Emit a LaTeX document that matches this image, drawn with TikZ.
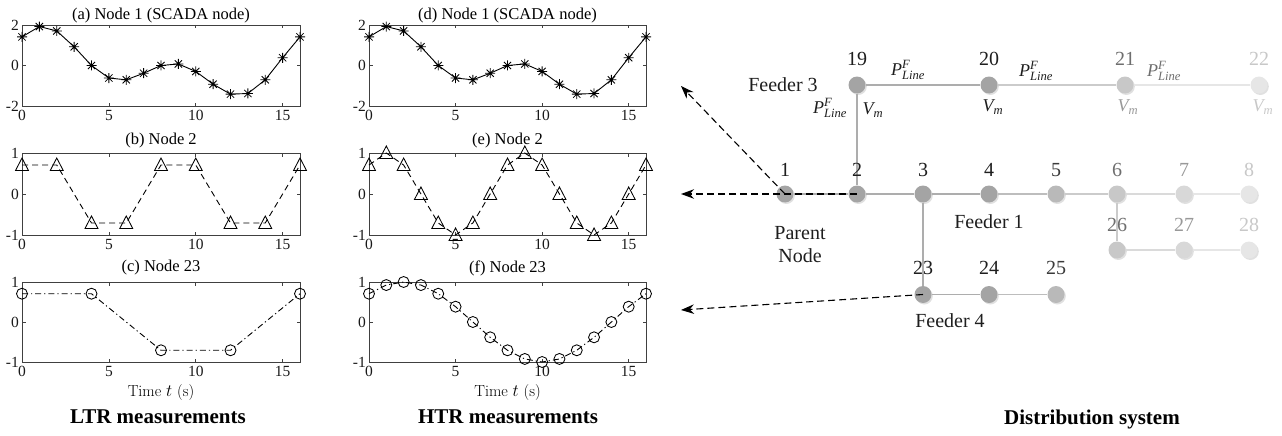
\documentclass[tikz,border=0pt]{standalone}
\usepackage{fontspec}
\usepackage{amsmath}
\setmainfont{Liberation Serif}
\newfontfamily\lmrfont{Latin Modern Roman}
\usetikzlibrary{arrows.meta,shadows}

\definecolor{busA}{HTML}{A4A4A4}
\definecolor{busB}{HTML}{B9B9B9}
\definecolor{busC}{HTML}{C8C8C8}
\definecolor{busD}{HTML}{D8D8D8}
\definecolor{busE}{HTML}{E6E6E6}
\definecolor{lineA}{HTML}{ADADAD}
\definecolor{lineB}{HTML}{BDBDBD}
\definecolor{lineC}{HTML}{CBCBCB}
\definecolor{lineD}{HTML}{DADADA}
\definecolor{lineE}{HTML}{E6E6E6}
\definecolor{txtA}{HTML}{1E1E1E}
\definecolor{txtB}{HTML}{3A3A3A}
\definecolor{txtC}{HTML}{6E6E6E}
\definecolor{txtD}{HTML}{999999}
\definecolor{txtE}{HTML}{C8C8C8}

\newcommand\myaxes[7]{%
  \draw[axisbox] (#2,#3) rectangle (#4,#5);
  \foreach \k in {5,10,15}{%
    \pgfmathsetmacro\xx{#2+\k*(#4-#2)/16}%
    \draw[tickmark] (\xx,#5) -- ++(0,-3.5);
    \draw[tickmark] (\xx,#3) -- ++(0,3.5);
  }%
  \foreach \k in {0,5,10,15}{%
    \pgfmathsetmacro\xx{#2+\k*(#4-#2)/16}%
    \node[ticklab,anchor=north] (#1x\k) at (\xx,#5+4) {\k};
  }%
  \pgfmathsetmacro\ym{(#3+#5)/2}%
  \draw[tickmark] (#2,\ym) -- ++(3.5,0);
  \draw[tickmark] (#4,\ym) -- ++(-3.5,0);
  \node[ticklab,anchor=east] (#1yt) at (#2-3,#3) {#6};
  \node[ticklab,anchor=east] (#1ym) at (#2-3,\ym) {0};
  \node[ticklab,anchor=east] (#1yb) at (#2-3,#5) {#7};
}

\newcommand\scadadata{%
  \draw[solidline] plot[domain=0:16,samples=17] (\x,{sin(45*\x+45)+sin(22.5*\x+45)});
  \foreach \t in {0,...,16}{%
    \pgfmathsetmacro\v{sin(45*\t+45)+sin(22.5*\t+45)}%
    \draw[mk] (\t,\v) +(-5pt,0pt) -- +(5pt,0pt) +(0pt,-5pt) -- +(0pt,5pt)
      +(-3.6pt,-3.6pt) -- +(3.6pt,3.6pt) +(-3.6pt,3.6pt) -- +(3.6pt,-3.6pt);
  }%
}
\newcommand\nodetwodata[2]{%
  \draw[dashline] plot[domain=0:16,samples=#2] (\x,{sin(45*\x+45)});
  \foreach \t in {0,#1,...,16}{%
    \pgfmathsetmacro\v{sin(45*\t+45)}%
    \draw[mk] (\t,\v) +(0pt,7pt) -- +(-6.5pt,-5.5pt) -- +(6.5pt,-5.5pt) -- cycle;
  }%
}
\newcommand\nodetwthdata[2]{%
  \draw[dotdashline] plot[domain=0:16,samples=#2] (\x,{sin(22.5*\x+45)});
  \foreach \t in {0,#1,...,16}{%
    \pgfmathsetmacro\v{sin(22.5*\t+45)}%
    \draw[mk] (\t,\v) circle[radius=5.5pt];
  }%
}

\begin{document}
\begin{tikzpicture}[x=1pt,y=-1pt,
  axisbox/.style={draw=black!75, line width=0.7pt},
  tickmark/.style={draw=black!75, line width=0.6pt},
  ticklab/.style={font=\fontsize{15.5}{16}\selectfont, inner sep=0pt, text=black!90},
  plottitle/.style={font=\fontsize{16.5}{18}\selectfont, inner sep=0pt},
  xlab/.style={font=\lmrfont\fontsize{16}{18}\selectfont, inner sep=0pt},
  captionlab/.style={font=\bfseries\fontsize{21}{24}\selectfont, inner sep=0pt},
  solidline/.style={black, line width=0.9pt},
  dashline/.style={black, line width=0.9pt, dash pattern=on 6pt off 4pt},
  dotdashline/.style={black, line width=0.9pt, dash pattern=on 6pt off 3pt on 1.2pt off 3pt},
  mk/.style={black, line width=0.85pt},
  bus/.style={circle, inner sep=0pt, minimum size=17pt, fill=#1,
    drop shadow={shadow xshift=1.3pt, shadow yshift=-1.5pt, fill=black, opacity=0.12}},
  feed/.style={draw=#1, line width=1.6pt},
  numlab/.style={font=\fontsize{20}{22}\selectfont, inner sep=0pt, text=#1},
  netlab/.style={font=\fontsize{20}{22}\selectfont, inner sep=0pt, text=txtA, align=center},
  qlab/.style={font=\fontsize{18}{20}\selectfont, inner sep=0pt, text=#1},
  arr/.style={black, line width=1.1pt, dash pattern=on 7pt off 4pt, -{Stealth[length=13pt,width=9.5pt]}}
]
\useasboundingbox (0,0) rectangle (1282,436);

% ---------------- LTR column ----------------
\node[plottitle] (ta) at (161,16) {(a) Node 1 (SCADA node)};
\myaxes{a}{22}{25}{300}{106}{2}{-2}
\begin{scope}[shift={(22,65.5)},x=17.375pt,y=20.25pt]
  \scadadata
\end{scope}

\node[plottitle] (tb) at (161,141) {(b) Node 2};
\myaxes{b}{22}{153}{300}{235}{1}{-1}
\begin{scope}[shift={(22,194)},x=17.375pt,y=41pt]
  \nodetwodata{2}{9}
\end{scope}

\node[plottitle] (tc) at (161,268) {(c) Node 23};
\myaxes{c}{22}{282}{300}{362}{1}{-1}
\begin{scope}[shift={(22,322)},x=17.375pt,y=40pt]
  \nodetwthdata{4}{5}
\end{scope}
\node[xlab] (xl1) at (161,393) {Time $t$ (s)};
\node[captionlab] (cap1) at (158,417) {LTR measurements};

% ---------------- HTR column ----------------
\node[plottitle] (td) at (507.5,16) {(d) Node 1 (SCADA node)};
\myaxes{d}{369}{25}{646}{106}{2}{-2}
\begin{scope}[shift={(369,65.5)},x=17.3125pt,y=20.25pt]
  \scadadata
\end{scope}

\node[plottitle] (te) at (507.5,141) {(e) Node 2};
\myaxes{e}{369}{153}{646}{235}{1}{-1}
\begin{scope}[shift={(369,194)},x=17.3125pt,y=41pt]
  \nodetwodata{1}{17}
\end{scope}

\node[plottitle] (tf) at (507.5,268) {(f) Node 23};
\myaxes{f}{369}{282}{646}{362}{1}{-1}
\begin{scope}[shift={(369,322)},x=17.3125pt,y=40pt]
  \nodetwthdata{1}{17}
\end{scope}
\node[xlab] (xl2) at (507.5,393) {Time $t$ (s)};
\node[captionlab] (cap2) at (508,417) {HTR measurements};

% ---------------- Distribution system ----------------
\node[bus=busA] (n19) at (857,85) {};
\node[bus=busA] (n20) at (989,85) {};
\node[bus=busC] (n21) at (1125,85) {};
\node[bus=busE] (n22) at (1259,85) {};
\node[bus=busA] (n1) at (785,194) {};
\node[bus=busA] (n2) at (857,194) {};
\node[bus=busA] (n3) at (923,194) {};
\node[bus=busA] (n4) at (989,194) {};
\node[bus=busB] (n5) at (1056,194) {};
\node[bus=busC] (n6) at (1117,194) {};
\node[bus=busD] (n7) at (1184,194) {};
\node[bus=busE] (n8) at (1249,194) {};
\node[bus=busC] (n26) at (1117,250) {};
\node[bus=busD] (n27) at (1184,250) {};
\node[bus=busE] (n28) at (1249,250) {};
\node[bus=busA] (n23) at (923,294.5) {};
\node[bus=busA] (n24) at (989,294.5) {};
\node[bus=busB] (n25) at (1056,294.5) {};

\draw[feed=lineA] (n19) -- (n20);
\draw[feed=lineC] (n20) -- (n21);
\draw[feed=lineE] (n21) -- (n22);
\draw[feed=lineA] (n19) -- (n2);
\draw[feed=lineA] (n1) -- (n2);
\draw[feed=lineA] (n2) -- (n3);
\draw[feed=lineA] (n3) -- (n4);
\draw[feed=lineB] (n4) -- (n5);
\draw[feed=lineC] (n5) -- (n6);
\draw[feed=lineD] (n6) -- (n7);
\draw[feed=lineE] (n7) -- (n8);
\draw[feed=lineC] (n6) -- (n26);
\draw[feed=lineD] (n26) -- (n27);
\draw[feed=lineE] (n27) -- (n28);
\draw[feed=lineA] (n3) -- (n23);
\draw[feed=lineA] (n23) -- (n24);
\draw[feed=lineB] (n24) -- (n25);

\node[numlab=txtA] (l19) at (857,59) {19};
\node[numlab=txtA] (l20) at (989,59) {20};
\node[numlab=txtC] (l21) at (1125,59) {21};
\node[numlab=txtE] (l22) at (1259,59) {22};
\node[numlab=txtA] (l1) at (785,170) {1};
\node[numlab=txtA] (l2) at (857,170) {2};
\node[numlab=txtA] (l3) at (923,170) {3};
\node[numlab=txtA] (l4) at (989,170) {4};
\node[numlab=txtB] (l5) at (1056,170) {5};
\node[numlab=txtC] (l6) at (1117,170) {6};
\node[numlab=txtD] (l7) at (1184,170) {7};
\node[numlab=txtE] (l8) at (1249,170) {8};
\node[numlab=txtC] (l26) at (1117,225) {26};
\node[numlab=txtD] (l27) at (1184,225) {27};
\node[numlab=txtE] (l28) at (1249,225) {28};
\node[numlab=txtA] (l23) at (923,268) {23};
\node[numlab=txtA] (l24) at (989,268) {24};
\node[numlab=txtB] (l25) at (1056,268) {25};

\node[netlab] (f3) at (783,85) {Feeder 3};
\node[netlab] (f1) at (989,222) {Feeder 1};
\node[netlab] (f4) at (950,321) {Feeder 4};
\node[netlab] (pn) at (800,245) {Parent\\[1pt]Node};

\node[qlab=txtA] (p1) at (908,70) {$\textit{P}^{\textit{F}}_{\textit{Line}}$};
\node[qlab=txtA] (p2) at (1036,71) {$\textit{P}^{\textit{F}}_{\textit{Line}}$};
\node[qlab=txtC] (p3) at (1164,71) {$\textit{P}^{\textit{F}}_{\textit{Line}}$};
\node[qlab=txtA] (p4) at (830,108) {$\textit{P}^{\textit{F}}_{\textit{Line}}$};
\node[qlab=txtA] (v1) at (873,110) {$\textit{V}_{\textit{m}}$};
\node[qlab=txtA] (v2) at (993,107) {$\textit{V}_{\textit{m}}$};
\node[qlab=txtD] (v3) at (1128,107) {$\textit{V}_{\textit{m}}$};
\node[qlab=txtE] (v4) at (1263,107) {$\textit{V}_{\textit{m}}$};

\coordinate (a1) at (681,86);
\coordinate (a2) at (681,194);
\coordinate (a3) at (681,310);
\draw[arr] (n1.center) -- (a1);
\draw[arr] (n2.center) -- (a2);
\draw[arr] (n23.center) -- (a3);

\node[captionlab] (cap3) at (1092,419) {Distribution system};
\end{tikzpicture}
\end{document}
